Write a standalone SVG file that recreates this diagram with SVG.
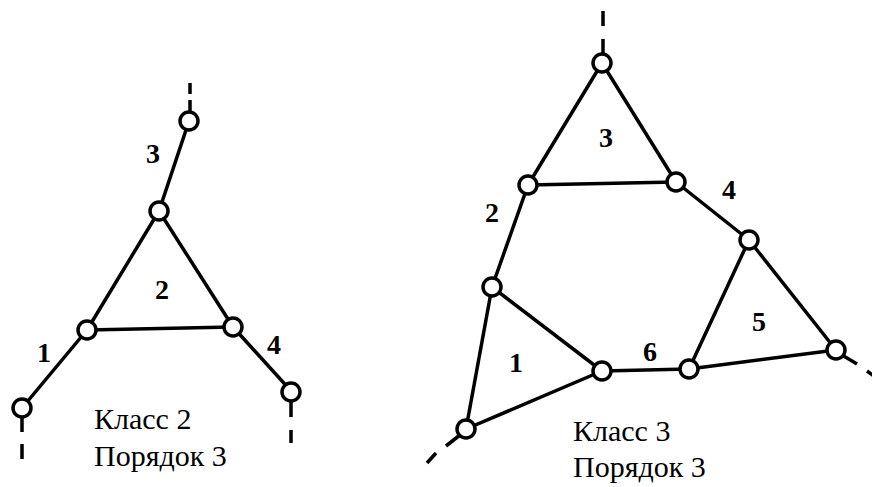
<svg xmlns="http://www.w3.org/2000/svg" width="872" height="487" viewBox="0 0 872 487">
<style>
.e{stroke:#000;stroke-width:3.5;fill:none;stroke-linecap:butt}
.n{fill:#fff;stroke:#000;stroke-width:3.5}
.l{font-family:'Liberation Serif','Tinos','DejaVu Serif',serif;font-weight:bold;font-size:28px;fill:#000;text-anchor:middle}
.t{font-family:'Liberation Serif','Tinos','DejaVu Serif',serif;font-size:30px;fill:#000}
</style>
<rect width="872" height="487" fill="#fff"/>
<g id="connectors">
<line class="e" x1="22" y1="408" x2="87" y2="330"/>
<line class="e" x1="87" y1="330" x2="233" y2="327"/>
<line class="e" x1="87" y1="330" x2="159" y2="211"/>
<line class="e" x1="159" y1="211" x2="233" y2="327"/>
<line class="e" x1="159" y1="211" x2="189" y2="121"/>
<line class="e" x1="233" y1="327" x2="292" y2="392"/>
<line class="e" x1="190" y1="100" x2="190" y2="114"/>
<line class="e" x1="190" y1="83" x2="190" y2="94"/>
<line class="e" x1="22" y1="416" x2="22" y2="432"/>
<line class="e" x1="22" y1="444" x2="22" y2="459"/>
<line class="e" x1="291" y1="400" x2="291" y2="417"/>
<line class="e" x1="291" y1="430" x2="291" y2="443"/>
<line class="e" x1="602" y1="63" x2="528" y2="185"/>
<line class="e" x1="602" y1="63" x2="676" y2="182"/>
<line class="e" x1="528" y1="185" x2="676" y2="182"/>
<line class="e" x1="528" y1="185" x2="492" y2="287"/>
<line class="e" x1="676" y1="182" x2="749" y2="240"/>
<line class="e" x1="749" y1="240" x2="689" y2="369"/>
<line class="e" x1="749" y1="240" x2="836" y2="350"/>
<line class="e" x1="689" y1="369" x2="836" y2="350"/>
<line class="e" x1="602" y1="371" x2="689" y2="369"/>
<line class="e" x1="492" y1="287" x2="602" y2="371"/>
<line class="e" x1="492" y1="287" x2="466" y2="429"/>
<line class="e" x1="466" y1="429" x2="602" y2="371"/>
<line class="e" x1="603" y1="11" x2="603" y2="26"/>
<line class="e" x1="603" y1="39" x2="603" y2="55"/>
<line class="e" x1="460" y1="435" x2="446" y2="446"/>
<line class="e" x1="436" y1="453" x2="427" y2="463"/>
<line class="e" x1="842" y1="355" x2="857" y2="364"/>
<line class="e" x1="867" y1="371" x2="874" y2="376"/>
</g>
<g id="node-L1"><circle class="n" cx="22" cy="408" r="9"/></g>
<g id="node-L2"><circle class="n" cx="87" cy="330" r="9"/></g>
<g id="node-L3"><circle class="n" cx="233" cy="327" r="9"/></g>
<g id="node-L4"><circle class="n" cx="159" cy="211" r="9"/></g>
<g id="node-L5"><circle class="n" cx="189" cy="121" r="9"/></g>
<g id="node-L6"><circle class="n" cx="291" cy="392" r="9"/></g>
<g id="node-R1"><circle class="n" cx="602" cy="63" r="9"/></g>
<g id="node-R2"><circle class="n" cx="528" cy="185" r="9"/></g>
<g id="node-R3"><circle class="n" cx="676" cy="182" r="9"/></g>
<g id="node-R4"><circle class="n" cx="749" cy="240" r="9"/></g>
<g id="node-R5"><circle class="n" cx="492" cy="287" r="9"/></g>
<g id="node-R6"><circle class="n" cx="602" cy="371" r="9"/></g>
<g id="node-R7"><circle class="n" cx="689" cy="369" r="9"/></g>
<g id="node-R8"><circle class="n" cx="836" cy="350" r="9"/></g>
<g id="node-R9"><circle class="n" cx="466" cy="429" r="9"/></g>
<g id="labels">
<text class="l" x="153" y="163">3</text>
<text class="l" x="162" y="299">2</text>
<text class="l" x="44" y="362">1</text>
<text class="l" x="274" y="354">4</text>
<text class="l" x="606" y="147">3</text>
<text class="l" x="729" y="199">4</text>
<text class="l" x="492" y="222">2</text>
<text class="l" x="516" y="372">1</text>
<text class="l" x="650" y="361">6</text>
<text class="l" x="759" y="331">5</text>
<text class="t" x="94" y="429">Класс 2</text>
<text class="t" x="94" y="466">Порядок 3</text>
<text class="t" x="573" y="441">Класс 3</text>
<text class="t" x="573" y="477">Порядок 3</text>
</g>
</svg>
